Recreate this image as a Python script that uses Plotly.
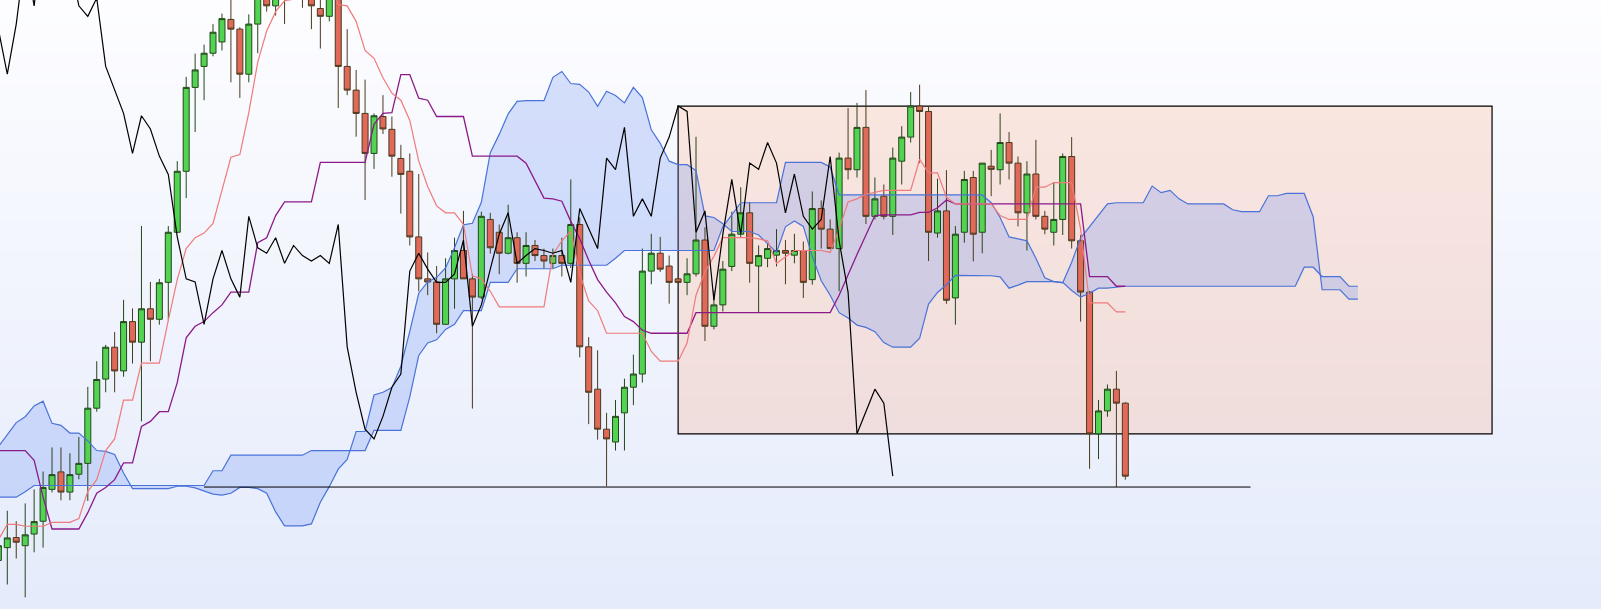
import plotly.graph_objects as go

# ---------------- data (price units) ----------------
bar_index = list(range(-1, 126))      # candle periods
cloud_index = list(range(-1, 152))    # cloud is projected 26 periods ahead
CHIKOU_SHIFT = 26

open_ = [157, 190, 216, 195, 225, 258, 340, 385, 333, 379,
         407, 549, 624, 706, 645, 772, 719, 805, 778, 873,
         1002, 1159, 1375, 1429, 1463, 1492, 1550, 1525, 1409, 1538,
         1750, 1585, 1770, 1660, 1800, 1700, 1578, 1558, 1603, 1429,
         1368, 1308, 1205, 1300, 1267, 1192, 1159, 990, 882, 874,
         765, 882, 955, 882, 835, 1035, 1002, 948, 988, 922,
         968, 942, 922, 942, 922, 1022, 707, 598, 495, 462,
         537, 603, 637, 902, 948, 915, 882, 873, 895, 982,
         760, 815, 914, 997, 1052, 915, 935, 943, 955, 943,
         955, 880, 1063, 1010, 960, 1193, 1163, 1272, 1043, 1095,
         1043, 1185, 1247, 1327, 1313, 1000, 1057, 833, 1002, 1143,
         1002, 1172, 1163, 1233, 1180, 1052, 1152, 1043, 1002, 1035,
         1197, 980, 848, 483, 542, 598, 562]

high_ = [208, 285, 258, 304, 340, 386, 448, 448, 433, 475,
         604, 670, 712, 745, 828, 806, 1018, 874, 882, 1018,
         1185, 1402, 1462, 1485, 1538, 1565, 1605, 1530, 1563, 1772,
         1786, 1790, 1848, 1855, 1815, 1715, 1605, 1610, 1608, 1525,
         1420, 1395, 1308, 1355, 1300, 1227, 1205, 1152, 950, 915,
         935, 988, 1057, 895, 1055, 1052, 1022, 1073, 1002, 1002,
         982, 960, 960, 988, 1138, 1040, 732, 698, 537, 570,
         625, 687, 960, 998, 990, 942, 884, 935, 1248, 1015,
         852, 928, 1055, 1118, 1080, 968, 972, 1010, 982, 998,
         978, 1107, 1084, 1035, 1207, 1322, 1335, 1368, 1143, 1125,
         1220, 1275, 1363, 1382, 1327, 1140, 1162, 1018, 1160, 1160,
         1180, 1214, 1308, 1260, 1197, 1185, 1240, 1057, 1130, 1205,
         1247, 995, 850, 570, 610, 645, 564]

low_ = [130, 95, 162, 62, 178, 190, 332, 312, 312, 366,
        310, 540, 590, 590, 630, 664, 515, 670, 764, 775,
        1000, 1090, 1260, 1342, 1455, 1470, 1388, 1348, 1388, 1463,
        1570, 1560, 1538, 1620, 1580, 1525, 1475, 1545, 1322, 1355,
        1248, 1085, 1165, 1255, 1145, 1050, 968, 850, 840, 742,
        765, 805, 882, 548, 830, 947, 894, 945, 872, 888,
        928, 908, 910, 888, 910, 680, 508, 468, 348, 440,
        440, 557, 615, 868, 900, 818, 871, 840, 888, 722,
        752, 798, 902, 990, 872, 795, 912, 914, 868, 922,
        833, 867, 960, 960, 850, 1138, 1143, 1023, 1035, 1035,
        995, 1125, 1233, 1180, 928, 988, 818, 764, 975, 927,
        948, 1095, 1125, 1138, 1017, 955, 1035, 997, 968, 995,
        960, 772, 393, 418, 527, 346, 365]

close_ = [195, 215, 204, 223, 257, 345, 378, 333, 378, 407,
          549, 623, 706, 645, 772, 719, 805, 778, 872, 1002,
          1159, 1375, 1420, 1463, 1517, 1552, 1525, 1409, 1538, 1720,
          1585, 1770, 1660, 1800, 1700, 1585, 1558, 1605, 1429, 1368,
          1308, 1205, 1302, 1268, 1198, 1151, 990, 882, 874, 765,
          882, 955, 882, 835, 1043, 962, 948, 988, 922, 968,
          942, 928, 942, 922, 1022, 707, 590, 495, 470, 528,
          603, 637, 902, 948, 907, 873, 873, 895, 982, 760,
          815, 907, 997, 1052, 922, 942, 960, 955, 948, 955,
          873, 1063, 1010, 960, 1193, 1163, 1272, 1043, 1088, 1043,
          1193, 1247, 1327, 1313, 1002, 1057, 827, 997, 1138, 997,
          1180, 1164, 1233, 1180, 1052, 1152, 1043, 1010, 1035, 1197,
          980, 848, 483, 542, 598, 562, 374]

tenkan = [210, 250, 250, 245, 245, 245, 255, 255, 255, 265,
          335, 365, 440, 470, 570, 570, 665, 665, 665, 775,
          880, 960, 988, 1000, 1025, 1110, 1195, 1202, 1310, 1440,
          1520, 1570, 1598, 1602, 1602, 1602, 1620, 1650, 1588, 1585,
          1545, 1470, 1450, 1400, 1360, 1342, 1290, 1185, 1120, 1070,
          1052, 1052, 1022, 890, 882, 850, 810, 810, 810, 810,
          810, 810, 945, 980, 1005, 895, 825, 800, 742, 742,
          742, 742, 742, 695, 670, 670, 670, 717, 840, 900,
          940, 988, 988, 988, 988, 985, 980, 922, 938, 955,
          955, 955, 955, 950, 1010, 1080, 1088, 1100, 1105, 1110,
          1110, 1110, 1110, 1190, 1155, 1155, 1092, 1075, 1075, 1075,
          1075, 1075, 1045, 1035, 1035, 1035, 1118, 1118, 1130, 1130,
          1130, 1010, 820, 820, 820, 797, 797]

kijun = [440, 440, 440, 440, 415, 320, 238, 238, 238, 238,
         280, 330, 345, 365, 408, 408, 502, 515, 540, 540,
         615, 730, 760, 772, 795, 815, 848, 848, 848, 975,
         988, 1045, 1080, 1080, 1080, 1080, 1182, 1182, 1182, 1182,
         1182, 1182, 1280, 1308, 1310, 1408, 1408, 1347, 1342, 1300,
         1300, 1300, 1300, 1198, 1198, 1198, 1198, 1198, 1198, 1180,
         1135, 1090, 1088, 1082, 1030, 985, 930, 880, 848, 820,
         785, 772, 750, 742, 742, 742, 742, 742, 795, 795,
         795, 795, 795, 795, 795, 795, 795, 795, 795, 795,
         795, 795, 795, 795, 840, 895, 945, 995, 1045, 1047,
         1047, 1047, 1047, 1053, 1053, 1065, 1085, 1075, 1075, 1075,
         1075, 1075, 1075, 1075, 1075, 1075, 1075, 1075, 1075, 1075,
         1075, 1075, 888, 888, 888, 863, 863]

senkou_a = [450, 480, 512, 527, 555, 567, 510, 505, 485, 485,
            465, 440, 438, 430, 382, 342, 342, 342, 342, 342,
            348, 348, 344, 335, 328, 325, 330, 345, 345, 342,
            330, 282, 246, 246, 246, 251, 307, 347, 392, 417,
            489, 489, 583, 590, 602, 657, 747, 845, 874, 886,
            910, 962, 1021, 1025, 1079, 1207, 1254, 1307, 1339, 1341,
            1341, 1341, 1401, 1416, 1385, 1383, 1363, 1326, 1365, 1354,
            1335, 1375, 1349, 1266, 1231, 1185, 1176, 1176, 1161, 1044,
            1040, 1024, 1004, 1004, 1004, 995, 972, 950, 1016, 1031,
            1017, 940, 877, 840, 795, 781, 763, 757, 746, 718,
            706, 706, 706, 729, 817, 847, 867, 891, 891, 891,
            891, 890, 887, 858, 866, 875, 875, 875, 875, 872,
            925, 987, 1016, 1047, 1075, 1078, 1078, 1078, 1078, 1121,
            1104, 1110, 1088, 1075, 1075, 1075, 1075, 1075, 1060, 1055,
            1055, 1055, 1096, 1096, 1102, 1102, 1102, 1042, 854, 854,
            854, 830, 830]

senkou_b = [320, 320, 320, 334, 350, 350, 350, 350, 350, 350,
            350, 350, 350, 350, 350, 350, 350, 350, 350, 350,
            350, 350, 350, 350, 388, 388, 428, 428, 428, 428,
            428, 428, 428, 428, 428, 440, 440, 440, 440, 440,
            440, 440, 492, 492, 492, 492, 578, 685, 717, 725,
            752, 765, 800, 800, 800, 873, 873, 873, 908, 908,
            908, 908, 908, 917, 917, 917, 917, 917, 917, 935,
            955, 955, 955, 955, 955, 955, 955, 955, 955, 955,
            955, 1016, 1047, 1078, 1078, 1078, 1078, 1078, 1182, 1182,
            1182, 1182, 1182, 1170, 1098, 1098, 1098, 1098, 1098, 1098,
            1098, 1098, 1098, 1098, 1098, 1098, 1098, 1098, 1098, 1098,
            1098, 1078, 1040, 990, 985, 980, 935, 885, 875, 873,
            852, 835, 845, 858, 858, 860, 863, 863, 863, 863,
            863, 863, 863, 863, 863, 863, 863, 863, 863, 863,
            863, 863, 863, 863, 863, 863, 912, 912, 888, 888,
            888, 863, 863]

# drawn annotations (price / period coordinates)
zone_start, zone_end = 75, 166
zone_low, zone_high = 483, 1327
support_level = 346
support_start, support_end = 22, 139

# ---------------- styles ----------------
CLOUD_LINE = '#4a72d8'
CLOUD_FILL = 'rgba(100,140,245,0.25)'
TENKAN_COLOR = '#f07a7a'
KIJUN_COLOR = '#8b1a89'
BG_TOP = (253, 253, 255)
BG_BOTTOM = (229, 235, 251)
X_RANGE = [-0.816, 178.18]
Y_RANGE = [32, 1600]

fig = go.Figure()

# cloud fill on the base axes (drawn beneath the candles)
fig.add_trace(go.Scatter(x=cloud_index, y=senkou_b, mode='lines',
                         line=dict(width=0, color=CLOUD_LINE), hoverinfo='skip'))
fig.add_trace(go.Scatter(x=cloud_index, y=senkou_a, mode='lines',
                         line=dict(width=0, color=CLOUD_LINE), fill='tonexty',
                         fillcolor=CLOUD_FILL, hoverinfo='skip'))

# candles and lines on an overlaid twin of the same axes
fig.add_trace(go.Candlestick(
    x=bar_index, open=open_, high=high_, low=low_, close=close_,
    increasing=dict(fillcolor='#52d452', line=dict(color='#24461a', width=1)),
    decreasing=dict(fillcolor='#e0695a', line=dict(color='#4a3a1c', width=1)),
    whiskerwidth=0, hoverinfo='skip', xaxis='x2', yaxis='y2'))

fig.add_trace(go.Scatter(x=cloud_index, y=senkou_b, mode='lines', xaxis='x2', yaxis='y2',
                         line=dict(width=1.2, color=CLOUD_LINE), hoverinfo='skip'))
fig.add_trace(go.Scatter(x=cloud_index, y=senkou_a, mode='lines', xaxis='x2', yaxis='y2',
                         line=dict(width=1.2, color=CLOUD_LINE), hoverinfo='skip'))
fig.add_trace(go.Scatter(x=bar_index, y=kijun, mode='lines', xaxis='x2', yaxis='y2',
                         line=dict(width=1.3, color=KIJUN_COLOR), hoverinfo='skip'))
fig.add_trace(go.Scatter(x=bar_index, y=tenkan, mode='lines', xaxis='x2', yaxis='y2',
                         line=dict(width=1.2, color=TENKAN_COLOR), hoverinfo='skip'))
fig.add_trace(go.Scatter(x=[i - CHIKOU_SHIFT for i in bar_index], y=close_, mode='lines',
                         xaxis='x2', yaxis='y2',
                         line=dict(width=1.2, color='black'), hoverinfo='skip'))

# background gradient
shapes = []
n = 80
for k in range(n):
    t = k / (n - 1)
    r, g, b = [round(BG_TOP[j] + (BG_BOTTOM[j] - BG_TOP[j]) * t) for j in range(3)]
    shapes.append(dict(type='rect', xref='paper', yref='paper', x0=0, x1=1,
                       y0=1 - (k + 1) / n - 0.002, y1=1 - k / n,
                       fillcolor=f'rgb({r},{g},{b})', line=dict(width=0), layer='below'))

shapes.append(dict(type='rect', xref='x', yref='y', x0=zone_start, x1=zone_end,
                   y0=zone_low, y1=zone_high, fillcolor='rgba(255,150,100,0.2)',
                   line=dict(color='black', width=1.2), layer='below'))
shapes.append(dict(type='line', xref='x', yref='y', x0=support_start, x1=support_end,
                   y0=support_level, y1=support_level,
                   line=dict(color='black', width=1)))

axis_style = dict(visible=False, showgrid=False, zeroline=False)
fig.update_layout(
    width=1601, height=609, autosize=False,
    margin=dict(l=0, r=0, t=0, b=0),
    paper_bgcolor='rgb(241,244,253)', plot_bgcolor='rgba(0,0,0,0)',
    showlegend=False, shapes=shapes,
    boxgap=0.33, boxgroupgap=0,
    xaxis=dict(range=X_RANGE, rangeslider=dict(visible=False), **axis_style),
    yaxis=dict(range=Y_RANGE, **axis_style),
    xaxis2=dict(range=X_RANGE, overlaying='x', anchor='y2',
                rangeslider=dict(visible=False), **axis_style),
    yaxis2=dict(range=Y_RANGE, overlaying='y', anchor='x2', **axis_style),
)

fig.write_html('out.html', config={'displayModeBar': False},
               post_script="document.body.style.margin='0';document.body.style.overflow='hidden';")
